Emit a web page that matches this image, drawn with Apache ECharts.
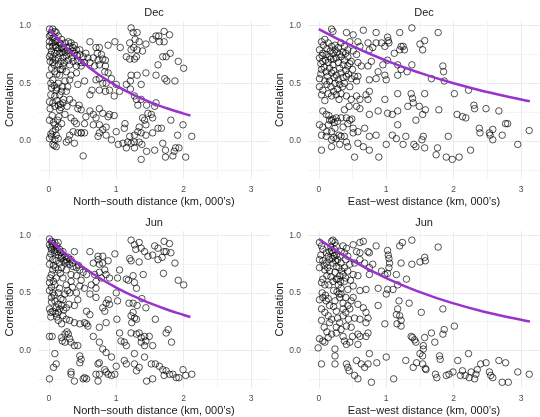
<!DOCTYPE html>
<html><head><meta charset="utf-8">
<script src="https://cdn.jsdelivr.net/npm/echarts@6/dist/echarts.min.js"></script>
<style>html,body{margin:0;padding:0;background:#fff}#c{width:540px;height:417px}</style>
</head><body><div id="c"></div>
<script>
const panelTitles = ['Dec', 'Dec', 'Jun', 'Jun'];
const xTitles = ['North\u2212south distance (km, 000\u2019s)', 'East\u2212west distance (km, 000\u2019s)', 'North\u2212south distance (km, 000\u2019s)', 'East\u2212west distance (km, 000\u2019s)'];
const yTitle = 'Correlation';
const xTickLabels = [0, 1, 2, 3];
const yTickLabels = [0, 0.5, 1];
const xGridValues = [0, 0.5, 1, 1.5, 2, 2.5, 3];
const yGridValues = [-0.25, 0, 0.25, 0.5, 0.75, 1];

const decNS = [
[1.22,0.98],[1.25,0.94],[1.31,0.94],[1.20,0.85],[1.28,0.88],[1.34,0.86],[1.22,0.79],[1.26,0.81],[1.31,0.79],[1.39,0.78],
[1.15,0.73],[1.20,0.71],[1.27,0.71],[1.30,0.73],[1.06,0.81],[0.98,0.86],[0.88,0.83],[1.44,0.84],[1.54,0.88],[1.59,0.91],
[1.63,0.91],[1.64,0.86],[1.71,0.86],[1.71,0.95],[1.79,0.92],[1.80,0.76],[1.69,0.73],[1.74,0.73],[1.62,0.66],[1.92,0.69],
[2.0,0.63],[1.72,0.54],[1.75,0.52],[1.87,0.52],[1.44,0.59],[1.59,0.57],[1.31,0.57],[1.22,0.57],[1.21,0.52],[1.15,0.49],
[1.37,0.49],[1.21,0.45],[1.27,0.39],[1.30,0.36],[1.37,0.36],[1.32,0.31],[1.45,0.31],[1.57,0.30],[1.59,0.33],[1.47,0.24],
[1.52,0.23],[1.39,0.20],[1.42,0.18],[1.54,0.20],[1.81,0.18],[1.99,0.14],[1.44,0.14],[1.34,0.12],[1.32,0.08],[1.37,0.07],
[1.62,0.11],[1.67,0.11],[1.54,0.07],[1.44,0.05],[1.27,0.05],[1.20,0.04],[1.12,0.11],[1.13,0.15],[1.91,0.05],[2.12,0.04],
[1.17,-0.01],[1.22,-0.02],[1.27,-0.01],[1.34,-0.01],[1.38,-0.03],[1.10,-0.02],[1.03,-0.03],[1.15,-0.06],[1.27,-0.06],[1.45,-0.09],
[1.57,-0.08],[1.69,-0.02],[1.73,-0.08],[1.88,-0.06],[1.93,-0.06],[1.86,-0.09],[1.84,-0.13],[1.73,-0.14],[2.03,-0.14],[1.37,-0.16],
[0.51,-0.13],
[0.61,0.86],[0.70,0.81],[0.75,0.81],[0.72,0.76],[0.78,0.75],[0.66,0.72],[0.73,0.70],[0.80,0.71],[0.84,0.70],[0.55,0.76],
[0.58,0.72],[0.61,0.68],[0.68,0.65],[0.75,0.66],[0.84,0.65],[0.83,0.60],[0.88,0.59],[0.93,0.54],[0.75,0.54],[0.70,0.53],
[0.80,0.50],[0.85,0.50],[0.90,0.44],[0.84,0.43],[0.75,0.44],[0.64,0.44],[0.61,0.40],[0.53,0.52],[0.97,0.39],[1.0,0.49],
[1.05,0.43],[0.75,0.28],[0.80,0.24],[0.90,0.23],[0.97,0.22],[0.88,0.21],[0.61,0.26],[0.66,0.23],[0.70,0.20],[0.75,0.14],
[0.85,0.12],[0.80,0.10],[0.75,0.07],[0.73,0.04],[0.85,0.05],[0.93,0.01],[1.0,0.08],[0.66,0.14],[0.53,0.15],[0.55,0.21],
[0.48,0.07],[0.53,0.07],
[0.01,0.97],[0.06,0.97],[0.09,0.95],[0.04,0.94],[0.11,0.94],[0.01,0.91],[0.06,0.89],[0.14,0.91],[0.19,0.88],[0.01,0.86],
[0.09,0.86],[0.16,0.85],[0.24,0.85],[0.29,0.86],[0.33,0.85],[0.38,0.83],[0.01,0.82],[0.06,0.82],[0.11,0.81],[0.19,0.81],
[0.26,0.81],[0.31,0.82],[0.36,0.81],[0.41,0.79],[0.46,0.79],[0.04,0.78],[0.09,0.76],[0.16,0.76],[0.24,0.77],[0.31,0.76],
[0.38,0.76],[0.46,0.75],[0.51,0.73],[0.01,0.73],[0.06,0.72],[0.14,0.72],[0.21,0.72],[0.29,0.70],[0.36,0.69],[0.43,0.69],
[0.48,0.68],[0.53,0.68],[0.06,0.68],[0.14,0.66],[0.21,0.65],[0.31,0.66],[0.41,0.65],[0.48,0.65],[0.04,0.63],[0.09,0.60],
[0.16,0.57],[0.26,0.60],[0.33,0.57],[0.41,0.59],[0.01,0.57],[0.06,0.53],[0.14,0.50],[0.24,0.52],[0.31,0.53],[0.43,0.49],
[0.04,0.46],[0.11,0.44],[0.19,0.43],[0.26,0.43],[0.16,0.40],[0.09,0.39],[0.01,0.34],[0.06,0.33],[0.14,0.31],[0.21,0.33],
[0.31,0.36],[0.36,0.33],[0.43,0.28],[0.48,0.27],[0.09,0.30],[0.16,0.27],[0.24,0.23],[0.33,0.20],[0.38,0.17],[0.41,0.15],
[0.19,0.15],[0.14,0.12],[0.09,0.14],[0.01,0.18],[0.06,0.08],[0.11,0.05],[0.04,0.04],[0.01,0.02],[0.09,0.01],[0.06,-0.03],
[0.11,-0.05],[0.31,0.05],[0.36,0.08],[0.43,0.07],[0.48,0.07],[0.29,0.01],[0.26,-0.01],[0.38,-0.02],
[0.03,0.92],[0.08,0.90],[0.12,0.87],[0.18,0.84],[0.22,0.80],[0.13,0.78],[0.03,0.75],[0.10,0.70],[0.18,0.69],[0.26,0.74],
[0.34,0.72],[0.20,0.62],[0.12,0.58],[0.08,0.48],[0.20,0.47],[0.03,0.40],[0.12,0.35],[0.18,0.29],[0.05,0.22],[0.13,0.18],
[0.08,-0.04],[0.15,0.21],[0.10,0.10],[0.22,0.36],[0.28,0.47],
[0.05,0.85],[0.10,0.83],[0.15,0.80],[0.20,0.77],[0.27,0.78],[0.35,0.78],[0.42,0.74],[0.02,0.69],[0.08,0.66],[0.17,0.62],
[0.23,0.68],[0.03,0.50],[0.12,0.46],[0.17,0.32],[0.27,0.30],[0.02,0.28],[0.07,0.16],[0.03,0.06],[0.14,0.02],[0.45,0.31]
];

const decEW = [
[1.38,0.98],[1.77,0.94],[1.20,0.94],[1.02,0.90],[1.03,0.87],[1.04,0.85],[0.93,0.85],[0.98,0.82],[1.22,0.82],[1.25,0.82],
[1.12,0.76],[1.20,0.79],[1.27,0.79],[1.50,0.84],[1.57,0.87],[1.54,0.79],[1.02,0.70],[1.17,0.66],[1.38,0.66],[1.17,0.57],
[1.22,0.62],[1.31,0.60],[1.84,0.65],[1.85,0.60],[1.86,0.52],[1.67,0.54],[2.01,0.41],[2.22,0.44],[1.57,0.41],[1.39,0.37],
[1.37,0.41],[1.40,0.33],[1.32,0.30],[1.17,0.41],[1.17,0.26],[1.17,0.14],[1.44,0.18],[1.49,0.30],[1.54,0.23],[1.58,0.27],
[1.78,0.27],[2.05,0.23],[2.13,0.21],[2.18,0.20],[2.30,0.31],[2.31,0.28],[2.48,0.28],[2.67,0.26],[2.38,0.11],[2.39,0.07],
[2.53,0.07],[2.54,0.05],[2.58,0.10],[2.72,0.05],[2.77,0.15],[2.80,0.15],[2.58,0.01],[3.12,0.09],[2.95,-0.03],[2.25,-0.08],
[2.08,-0.14],[1.98,-0.16],[1.89,-0.14],[1.92,0.04],[1.76,-0.06],[1.74,-0.12],[1.57,-0.06],[1.53,0.01],[1.55,0.04],[1.44,-0.05],
[1.41,-0.03],[1.29,0.04],[1.25,-0.03],[1.09,0.05],[1.0,-0.03],[1.15,0.02],[0.89,-0.14],[1.02,0.24],[1.09,0.23],
[0.19,0.97],[0.21,0.95],[0.41,0.94],[0.51,0.92],[0.66,0.96],[0.85,0.94],[0.73,0.85],[0.75,0.79],[0.80,0.81],[0.85,0.85],
[0.58,0.86],[0.61,0.82],[0.04,0.86],[0.09,0.88],[0.14,0.85],[0.19,0.82],[0.24,0.83],[0.29,0.81],[0.33,0.85],[0.38,0.82],
[0.43,0.79],[0.46,0.86],[0.51,0.78],[0.56,0.75],[0.01,0.79],[0.06,0.76],[0.11,0.75],[0.16,0.73],[0.21,0.76],[0.26,0.72],
[0.33,0.73],[0.38,0.70],[0.43,0.73],[0.01,0.72],[0.06,0.69],[0.14,0.68],[0.21,0.66],[0.29,0.68],[0.36,0.66],[0.43,0.65],
[0.48,0.69],[0.58,0.68],[0.63,0.65],[0.73,0.65],[0.78,0.69],[0.95,0.66],[0.88,0.60],[0.85,0.54],[0.98,0.57],[1.0,0.53],
[0.04,0.62],[0.11,0.60],[0.19,0.59],[0.26,0.57],[0.33,0.59],[0.41,0.56],[0.48,0.54],[0.53,0.56],[0.58,0.56],[0.01,0.54],
[0.09,0.52],[0.16,0.52],[0.24,0.50],[0.31,0.49],[0.38,0.50],[0.46,0.47],[0.56,0.52],[0.75,0.53],[0.01,0.47],[0.06,0.44],
[0.14,0.41],[0.19,0.39],[0.26,0.40],[0.33,0.41],[0.41,0.39],[0.48,0.36],[0.56,0.39],[0.61,0.36],[0.70,0.40],[0.75,0.43],
[0.73,0.36],[0.56,0.30],[0.61,0.28],[0.98,0.36],[0.88,0.26],[0.75,0.23],[0.06,0.26],[0.11,0.23],[0.19,0.18],[0.26,0.20],
[0.33,0.20],[0.41,0.20],[0.46,0.18],[0.01,0.14],[0.06,0.12],[0.14,0.14],[0.24,0.11],[0.36,0.12],[0.43,0.15],[0.51,0.11],
[0.58,0.08],[0.68,0.11],[0.75,0.04],[0.85,0.05],[0.04,0.05],[0.11,0.04],[0.19,0.01],[0.26,0.02],[0.33,0.04],[0.41,-0.01],
[0.51,0.07],[0.58,-0.02],[0.66,-0.05],[0.75,-0.08],[0.04,-0.08],[0.19,-0.05],[0.31,-0.03],[0.43,-0.05],[0.53,-0.14],[0.19,0.08],
[0.30,0.05],
[0.07,0.83],[0.12,0.80],[0.17,0.78],[0.22,0.71],[0.27,0.77],[0.31,0.63],[0.36,0.77],[0.40,0.61],[0.03,0.67],[0.08,0.64],
[0.13,0.56],[0.18,0.47],[0.23,0.55],[0.28,0.45],[0.35,0.47],[0.44,0.58],[0.50,0.62],[0.09,0.35],[0.15,0.22],[0.21,0.19],
[0.28,0.17],[0.38,0.27],[0.45,0.30],[0.12,0.08],[0.22,0.03],
[0.05,0.74],[0.10,0.70],[0.18,0.71],[0.24,0.79],[0.31,0.75],[0.40,0.76],[0.46,0.67],[0.03,0.58],[0.16,0.63],[0.22,0.61],
[0.29,0.53],[0.36,0.55],[0.12,0.49],[0.04,0.40],[0.22,0.43],[0.30,0.36],[0.16,0.18],[0.23,0.16],[0.38,0.04],[0.49,0.19]
];

const junNS = [
[1.22,0.96],[1.27,0.92],[1.34,0.94],[1.29,0.88],[1.37,0.89],[1.42,0.86],[1.20,0.80],[1.22,0.78],[1.34,0.77],[1.47,0.82],
[1.57,0.91],[1.62,0.89],[1.54,0.83],[1.62,0.79],[1.68,0.81],[1.71,0.95],[1.79,0.93],[1.71,0.86],[1.74,0.86],[1.81,0.85],
[1.87,0.76],[1.70,0.67],[1.40,0.66],[1.15,0.62],[1.18,0.61],[1.25,0.65],[1.27,0.59],[1.30,0.54],[1.92,0.61],[2.0,0.57],
[1.19,0.41],[1.25,0.41],[1.31,0.39],[1.38,0.45],[1.44,0.37],[1.25,0.33],[1.22,0.30],[1.27,0.28],[1.30,0.27],[1.23,0.24],
[1.58,0.27],[1.22,0.15],[1.30,0.14],[1.34,0.15],[1.37,0.11],[1.42,0.12],[1.44,0.08],[1.37,0.07],[1.42,0.04],[1.54,0.04],
[1.49,0.12],[1.74,0.15],[1.77,0.18],[1.82,0.07],[1.07,0.08],[1.12,0.07],[1.15,0.04],[1.05,0.15],[1.01,0.27],[1.27,-0.03],
[1.42,-0.06],[1.12,-0.09],[1.0,-0.14],[1.15,-0.12],[1.27,-0.12],[1.30,-0.18],[1.34,-0.15],[1.52,-0.12],[1.58,-0.12],[1.64,-0.14],
[1.69,-0.17],[1.74,-0.18],[1.71,-0.22],[1.79,-0.21],[1.84,-0.21],[1.89,-0.24],[1.93,-0.24],[1.99,-0.17],[2.03,-0.22],[2.12,-0.21],
[1.45,-0.27],[1.54,-0.25],[0.98,-0.21],
[0.61,0.86],[0.73,0.82],[0.80,0.82],[0.98,0.84],[0.66,0.76],[0.73,0.79],[0.75,0.75],[0.80,0.76],[0.88,0.78],[0.83,0.70],
[0.85,0.66],[0.68,0.66],[0.75,0.68],[0.78,0.63],[0.70,0.60],[0.63,0.57],[0.70,0.54],[0.90,0.63],[1.02,0.63],[1.05,0.70],
[1.0,0.50],[1.02,0.43],[0.88,0.44],[0.85,0.41],[0.90,0.40],[0.80,0.37],[0.83,0.34],[0.70,0.46],[0.61,0.49],[0.56,0.34],
[0.61,0.31],[0.75,0.20],[0.85,0.24],[0.56,0.23],[0.58,0.21],[0.66,0.12],[0.75,0.07],[0.80,0.01],[0.85,-0.02],[0.93,-0.06],
[0.75,-0.11],[0.73,-0.12],[0.83,-0.17],[0.85,-0.19],[0.88,-0.21],[0.93,-0.22],[0.70,-0.21],[0.73,-0.27],[0.75,-0.21],[0.53,-0.24],
[0.51,-0.25],[0.56,-0.25],[0.48,-0.08],[0.46,-0.05],[0.38,-0.27],[0.33,-0.21],
[0.01,0.97],[0.04,0.95],[0.09,0.94],[0.14,0.94],[0.01,0.92],[0.06,0.91],[0.11,0.89],[0.16,0.88],[0.21,0.86],[0.04,0.88],
[0.09,0.85],[0.14,0.83],[0.19,0.82],[0.24,0.82],[0.29,0.81],[0.33,0.79],[0.38,0.86],[0.01,0.81],[0.06,0.79],[0.11,0.78],
[0.16,0.76],[0.24,0.76],[0.31,0.75],[0.36,0.73],[0.41,0.72],[0.46,0.70],[0.51,0.68],[0.56,0.66],[0.01,0.75],[0.06,0.70],
[0.14,0.70],[0.19,0.72],[0.26,0.70],[0.33,0.66],[0.41,0.65],[0.04,0.66],[0.11,0.63],[0.21,0.63],[0.01,0.59],[0.09,0.57],
[0.16,0.54],[0.26,0.57],[0.33,0.60],[0.46,0.56],[0.53,0.54],[0.01,0.52],[0.06,0.50],[0.14,0.50],[0.24,0.49],[0.31,0.50],
[0.41,0.50],[0.43,0.44],[0.04,0.46],[0.09,0.43],[0.14,0.40],[0.19,0.39],[0.26,0.37],[0.38,0.39],[0.01,0.36],[0.06,0.34],
[0.14,0.33],[0.21,0.30],[0.26,0.27],[0.31,0.26],[0.14,0.26],[0.19,0.23],[0.38,0.24],[0.46,0.23],[0.53,0.24],[0.01,0.12],
[0.05,0.12],[0.19,0.11],[0.24,0.14],[0.29,0.14],[0.31,0.10],[0.33,0.07],[0.38,0.04],[0.43,0.04],[0.24,0.07],[0.09,-0.03],
[0.11,-0.12],[0.07,-0.15],[0.01,-0.25],[0.33,-0.19],[0.46,-0.11],
[0.03,0.90],[0.08,0.87],[0.13,0.86],[0.18,0.80],[0.22,0.78],[0.27,0.77],[0.03,0.84],[0.07,0.74],[0.10,0.72],[0.17,0.67],
[0.04,0.55],[0.08,0.48],[0.11,0.37],[0.03,0.33],[0.16,0.36],[0.21,0.44],[0.12,0.29],[0.28,0.52],[0.35,0.55],[0.48,0.61],
[0.06,0.93],[0.12,0.91],[0.18,0.85],[0.26,0.79],[0.35,0.76],[0.44,0.74],[0.02,0.63],[0.07,0.60],[0.04,0.42],[0.10,0.32],
[0.18,0.45],[0.22,0.35],[0.30,0.40],[0.03,0.29],[0.27,0.16],[0.20,0.08]
];

const junEW = [
[1.38,0.96],[1.77,0.90],[1.20,0.91],[1.24,0.94],[1.02,0.87],[1.03,0.83],[1.04,0.80],[1.05,0.76],[1.04,0.72],[1.02,0.67],
[0.98,0.66],[0.93,0.69],[1.22,0.76],[1.38,0.75],[1.50,0.77],[1.57,0.81],[1.58,0.78],[1.30,0.62],[1.15,0.66],[1.17,0.57],
[1.10,0.53],[1.02,0.53],[1.0,0.49],[1.19,0.43],[1.34,0.41],[1.17,0.36],[1.20,0.30],[1.15,0.31],[1.22,0.26],[1.16,0.23],
[1.22,0.21],[0.98,0.23],[1.52,0.33],[1.84,0.36],[2.01,0.21],[1.86,0.18],[1.84,0.14],[1.67,0.15],[1.57,0.11],[1.72,0.07],
[1.37,0.12],[1.39,0.11],[1.42,0.09],[1.44,0.07],[1.55,0.04],[1.55,0.01],[1.50,-0.03],[1.54,-0.05],[1.45,-0.11],[1.54,-0.12],
[1.58,-0.16],[1.59,-0.17],[1.40,-0.15],[1.29,-0.09],[1.0,-0.06],[0.86,-0.11],[1.11,-0.25],[0.78,-0.28],[0.73,-0.12],[1.79,-0.05],
[1.80,-0.08],[1.73,-0.21],[1.75,-0.24],[1.89,-0.22],[1.93,-0.21],[1.99,-0.19],[2.06,-0.09],[2.10,-0.22],[2.13,-0.18],[2.22,-0.03],
[2.26,-0.19],[2.31,-0.25],[2.35,-0.17],[2.40,-0.12],[2.48,-0.11],[2.53,-0.19],[2.55,-0.22],[2.58,-0.24],[2.67,-0.09],[2.77,-0.11],
[2.72,-0.28],[2.81,-0.28],[2.95,-0.19],[3.12,-0.21],[2.17,-0.22],[2.23,-0.24],[2.33,-0.21],
[0.01,0.94],[0.04,0.91],[0.19,0.95],[0.21,0.96],[0.24,0.94],[0.26,0.91],[0.36,0.91],[0.41,0.89],[0.51,0.92],[0.61,0.94],
[0.66,0.95],[0.73,0.86],[0.75,0.85],[0.85,0.91],[0.56,0.86],[0.61,0.85],[0.06,0.88],[0.11,0.85],[0.16,0.86],[0.21,0.85],
[0.26,0.83],[0.31,0.82],[0.38,0.85],[0.43,0.82],[0.01,0.79],[0.06,0.78],[0.11,0.76],[0.16,0.79],[0.21,0.76],[0.26,0.73],
[0.33,0.76],[0.38,0.72],[0.46,0.75],[0.53,0.76],[0.61,0.79],[0.68,0.76],[0.75,0.72],[0.80,0.75],[0.01,0.72],[0.09,0.70],
[0.16,0.69],[0.24,0.68],[0.31,0.65],[0.36,0.66],[0.43,0.69],[0.51,0.66],[0.58,0.65],[0.75,0.66],[0.04,0.59],[0.09,0.57],
[0.21,0.60],[0.29,0.57],[0.33,0.54],[0.38,0.60],[0.43,0.53],[0.51,0.56],[0.61,0.52],[0.70,0.53],[0.88,0.54],[0.01,0.44],
[0.06,0.46],[0.11,0.43],[0.16,0.39],[0.24,0.43],[0.31,0.46],[0.36,0.41],[0.43,0.39],[0.51,0.46],[0.58,0.40],[0.66,0.37],
[0.70,0.33],[0.73,0.28],[0.88,0.39],[0.04,0.36],[0.09,0.33],[0.14,0.30],[0.19,0.27],[0.26,0.34],[0.36,0.30],[0.46,0.36],
[0.53,0.28],[0.61,0.27],[0.70,0.24],[0.04,0.26],[0.16,0.24],[0.26,0.20],[0.33,0.18],[0.41,0.21],[0.48,0.20],[0.19,0.14],
[0.26,0.15],[0.36,0.12],[0.38,0.08],[0.41,0.05],[0.46,0.07],[0.58,0.14],[0.61,0.12],[0.70,0.12],[0.73,0.15],[0.58,0.05],
[0.01,0.10],[0.06,0.08],[0.14,0.11],[-0.01,0.02],[0.09,0.07],[0.24,0.01],[0.24,-0.05],[0.24,-0.12],[0.04,-0.12],[0.41,-0.12],
[0.43,-0.15],[0.45,-0.18],[0.53,-0.22],[0.58,-0.25],[0.56,-0.09],[0.63,-0.12],[0.68,-0.15],[0.75,-0.03],
[0.18,0.90],[0.23,0.88],[0.20,0.80],[0.25,0.78],[0.30,0.72],[0.34,0.69],[0.28,0.62],[0.32,0.60],[0.40,0.63],[0.47,0.61],
[0.03,0.83],[0.08,0.74],[0.13,0.72],[0.05,0.50],[0.10,0.48],[0.14,0.45],[0.27,0.51],[0.30,0.49],[0.40,0.46],[0.36,0.36],
[0.44,0.27],[0.12,0.16],[0.08,0.20],[0.31,0.24],
[0.14,0.82],[0.19,0.87],[0.23,0.82],[0.28,0.79],[0.33,0.86],[0.40,0.79],[0.18,0.64],[0.26,0.62],[0.12,0.65],[0.06,0.62],
[0.33,0.49],[0.22,0.38],[0.28,0.28],[0.40,0.33],[0.48,0.43],[0.15,0.57],[0.22,0.52],[0.50,0.12]
];

const fitXShort = [0, 0.25, 0.5, 0.75, 1, 1.25, 1.5, 1.75, 2, 2.1];
const fitXLong = [0, 0.5, 1, 1.5, 2, 2.5, 3, 3.13];
const decNSFit = [0.97, 0.814, 0.682, 0.572, 0.480, 0.402, 0.337, 0.283, 0.237, 0.221];
const decEWFit = [0.97, 0.822, 0.696, 0.590, 0.500, 0.424, 0.359, 0.344];
const junNSFit = [0.97, 0.840, 0.728, 0.630, 0.546, 0.473, 0.410, 0.355, 0.307, 0.290];
const junEWFit = [0.97, 0.781, 0.629, 0.507, 0.408, 0.329, 0.265, 0.250];

const points = [decNS, decEW, junNS, junEW];
const fits = [[fitXShort, decNSFit], [fitXLong, decEWFit], [fitXShort, junNSFit], [fitXLong, junEWFit]];

const FONT = 'Liberation Sans, Arial, Helvetica, sans-serif';
const grids = [
  {left: 38, top: 21, width: 232, height: 158},
  {left: 308, top: 21, width: 232, height: 158},
  {left: 38, top: 231, width: 232, height: 158},
  {left: 308, top: 231, width: 232, height: 158}
];

const option = {
  animation: false,
  backgroundColor: '#fff',
  textStyle: {fontFamily: FONT},
  title: grids.map((g, i) => ({
    text: panelTitles[i], left: g.left + g.width / 2, top: g.top - 14, textAlign: 'center', padding: 0,
    textStyle: {fontSize: 11, fontWeight: 'normal', color: '#1a1a1a', fontFamily: FONT}
  })),
  grid: grids,
  xAxis: grids.map((g, i) => ({
    gridIndex: i, type: 'value', min: -0.16, max: 3.28,
    name: xTitles[i], nameLocation: 'middle', nameGap: 17,
    nameTextStyle: {fontSize: 11, color: '#1a1a1a', fontFamily: FONT},
    axisLine: {show: false},
    axisTick: {show: false, customValues: xGridValues},
    axisLabel: {customValues: xTickLabels, fontSize: 8.5, color: '#4d4d4d', margin: 6, fontFamily: FONT},
    splitLine: {show: true, lineStyle: {color: ['#ebebeb', '#f4f4f4'], width: 1}}
  })),
  yAxis: grids.map((g, i) => ({
    gridIndex: i, type: 'value', min: -0.33, max: 1.04,
    name: yTitle, nameLocation: 'middle', nameGap: 21,
    nameTextStyle: {fontSize: 11, color: '#1a1a1a', fontFamily: FONT},
    axisLine: {show: false},
    axisTick: {show: false, customValues: yGridValues},
    axisLabel: {customValues: yTickLabels, fontSize: 8.5, color: '#4d4d4d', margin: 7, fontFamily: FONT,
      formatter: v => Number(v).toFixed(1)},
    splitLine: {show: true, lineStyle: {color: ['#f4f4f4', '#ebebeb'], width: 1}}
  })),
  series: []
};

points.forEach((pts, i) => {
  option.series.push({
    type: 'scatter', xAxisIndex: i, yAxisIndex: i, data: pts,
    symbol: 'circle', symbolSize: 6.5,
    itemStyle: {color: 'rgba(0,0,0,0)', borderColor: '#000', borderWidth: 0.85}
  });
});
fits.forEach((f, i) => {
  option.series.push({
    type: 'line', xAxisIndex: i, yAxisIndex: i, smooth: true, showSymbol: false,
    data: f[0].map((x, k) => [x, f[1][k]]),
    lineStyle: {color: '#9a32cd', width: 2.5}, z: 5
  });
});

const chart = echarts.init(document.getElementById('c'), null, {renderer: 'canvas'});
chart.setOption(option);
</script></body></html>
